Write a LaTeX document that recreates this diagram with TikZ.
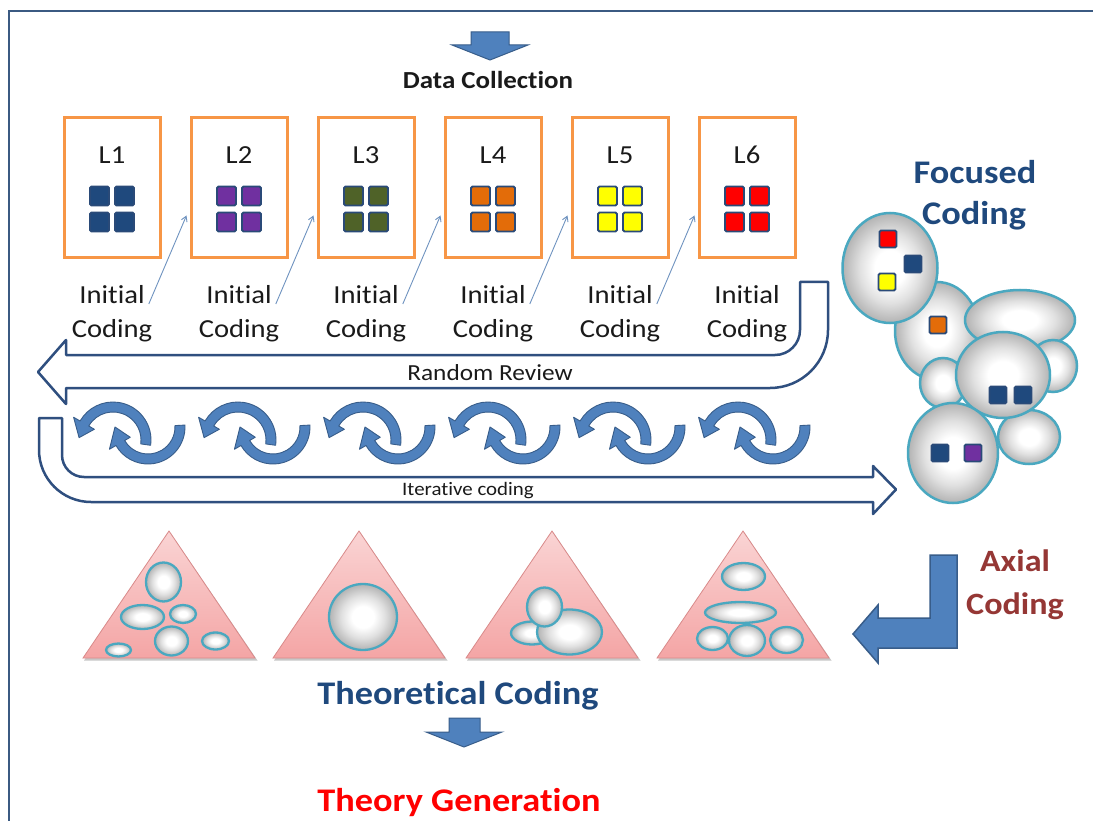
\documentclass[tikz,border=0pt]{standalone}
\usepackage{fontspec}
\setmainfont{Carlito}[FakeStretch=1.1, Ligatures=NoCommon]
\usetikzlibrary{calc,arrows.meta}
\definecolor{framec}{HTML}{3B5A82}
\definecolor{boxor}{HTML}{F79646}
\definecolor{sqedge}{HTML}{2A4A78}
\definecolor{cA}{HTML}{1F497D}
\definecolor{cB}{HTML}{7030A0}
\definecolor{cC}{HTML}{4F6228}
\definecolor{cD}{HTML}{E36C09}
\definecolor{cE}{HTML}{FFFF00}
\definecolor{cF}{HTML}{FF0000}
\definecolor{thinblue}{HTML}{6F93C0}
\definecolor{outl}{HTML}{2F4F7F}
\definecolor{arrfill}{HTML}{4F81BD}
\definecolor{arredge}{HTML}{385D8A}
\definecolor{navy}{HTML}{1F497D}
\definecolor{bubedge}{HTML}{4AA8C0}
\definecolor{tritop}{HTML}{FAD4D4}
\definecolor{tribot}{HTML}{F4A5A5}
\definecolor{triedge}{HTML}{D98A8A}
\definecolor{axred}{HTML}{953735}
\definecolor{txt}{HTML}{1A1A1A}
\pgfdeclareradialshading{bubble}{\pgfpoint{0bp}{0bp}}{color(0bp)=(white); color(8bp)=(white); color(16bp)=(black!12); color(25bp)=(black!30); color(50bp)=(black!30)}
\tikzset{
  lbox/.style={draw=boxor, line width=3pt, minimum width=96pt, minimum height=140pt, inner sep=0pt},
  sqr/.style={draw=sqedge, line width=1.8pt, minimum size=19pt, inner sep=0pt, rounded corners=1.5pt},
  bsq/.style={draw=sqedge, line width=1.8pt, minimum size=17pt, inner sep=0pt, rounded corners=1.5pt},
  lab/.style={font=\fontsize{26}{28}\selectfont, text=txt, inner sep=0pt},
  itext/.style={font=\fontsize{26}{28}\selectfont, text=txt, inner sep=1pt},
  thinarrow/.style={draw=thinblue, line width=0.9pt, -{Straight Barb[length=5pt,width=6pt]}},
  hollow/.style={draw=outl, line width=2.5pt, fill=white, line join=round},
  blockarr/.style={fill=arrfill, draw=arredge, line width=1pt, line join=miter},
  bub/.style={shading=bubble, draw=bubedge, line width=2.5pt},
  tbub/.style={shading=bubble, draw=bubedge, line width=2.3pt},
  tri/.style={top color=tritop, bottom color=tribot, draw=triedge, line width=0.8pt},
  curv/.style={fill=arrfill, draw=arredge, line width=0.9pt, line join=round},
  bigbold/.style={font=\fontsize{33}{35}\selectfont\bfseries, inner sep=0pt}
}
\begin{document}
\begin{tikzpicture}[x=1pt,y=-1pt]
\useasboundingbox (0,0) rectangle (1093,821);
\fill[white] (0,0) rectangle (1093,821);
% frame (top and left visible)
\draw[framec, line width=2.5pt] (9,821) -- (9,11) -- (1093,11);

% data collection
\fill[blockarr] (471,32) -- (509,32) -- (509,45) -- (528,45) -- (490,60) -- (452,45) -- (471,45) -- cycle;
\node[font=\fontsize{24.5}{26}\selectfont\bfseries, text=txt] (dc) at (488,80) {Data Collection};

% L boxes
\foreach \i/\c in {1/cA,2/cB,3/cC,4/cD,5/cE,6/cF}{
  \pgfmathsetmacro{\bx}{112+127*(\i-1)}
  \node[lbox] (b\i) at (\bx,187.5) {};
  \node[lab] (l\i) at (\bx,155) {L\i};
  \node[sqr, fill=\c] (s\i a) at (\bx-12.5,196) {};
  \node[sqr, fill=\c] (s\i b) at (\bx+12.5,196) {};
  \node[sqr, fill=\c] (s\i c) at (\bx-12.5,222) {};
  \node[sqr, fill=\c] (s\i d) at (\bx+12.5,222) {};
  \node[itext] (ini\i) at (\bx,295) {Initial};
  \node[itext] (cod\i) at (\bx,331) {Coding};
}
\foreach \i [evaluate=\i as \j using int(\i+1)] in {1,...,5}{
  \draw[thinarrow] ([shift={(3,9)}]ini\i.east) -- ([shift={(-3,28)}]b\j.west);
}

% Random Review hollow U-turn arrow
\draw[hollow] (800,282) -- (828,282) -- (828,330) arc[start angle=0, end angle=90, radius=58]
  -- (66,388) -- (66,404) -- (38,372) -- (66,340) -- (66,355) -- (775,355)
  arc[start angle=90, end angle=0, radius=25] -- cycle;
\node[font=\fontsize{23}{25}\selectfont, text=txt] (rr) at (490,373) {Random Review};

% Iterative coding hollow arrow
\draw[hollow] (39,418) -- (62,418) -- (62,455) arc[start angle=180, end angle=90, radius=22]
  -- (873,477) -- (873,466) -- (896,489.5) -- (873,514) -- (873,502) -- (91,502)
  arc[start angle=90, end angle=180, radius=52] -- cycle;
\node[font=\fontsize{19}{21}\selectfont, text=txt] (ic) at (468,491) {Iterative coding};

% circular arrows
\foreach \k in {0,...,5}{
  \pgfmathsetmacro{\tx}{113+125*\k}
  \pgfmathsetmacro{\bx}{148+125*\k}
  % top arc (head at left, pointing down)
  \filldraw[curv] ($(\tx,440)+(8:38)$) arc[start angle=8, end angle=-150, radius=38]
     -- ($(\tx,440)+(-150:45.5)$) -- ($(\tx,440)+(-176:34)$) -- ($(\tx,440)+(-150:21.5)$)
     -- ($(\tx,440)+(-150:28)$) arc[start angle=-150, end angle=8, radius=28] -- cycle;
  % bottom arc (head at left, pointing up)
  \filldraw[curv] ($(\bx,427)+(-3:37)$) arc[start angle=-3, end angle=150, radius=37]
     -- ($(\bx,427)+(150:44.5)$) -- ($(\bx,427)+(180:33)$) -- ($(\bx,427)+(150:20.5)$)
     -- ($(\bx,427)+(150:27)$) arc[start angle=150, end angle=-3, radius=27] -- cycle;
}

% Focused coding
\node[bigbold, text=navy] (fc1) at (975,172) {Focused};
\node[bigbold, text=navy] (fc2) at (974,216) {Coding};
\shadedraw[bub] (937,331) ellipse [x radius=42, y radius=49];
\shadedraw[bub] (1020,320) ellipse [x radius=55, y radius=30];
\shadedraw[bub] (1053,366) ellipse [x radius=24, y radius=26];
\shadedraw[bub] (943,383) ellipse [x radius=23, y radius=25];
\shadedraw[bub] (1029,437) ellipse [x radius=31, y radius=27];
\shadedraw[bub] (1003,375) ellipse [x radius=47, y radius=43];
\shadedraw[bub] (890,268) ellipse [x radius=47.5, y radius=55];
\shadedraw[bub] (953,453) ellipse [x radius=45, y radius=50];
\node[bsq, fill=cF] (fa1) at (888,239) {};
\node[bsq, fill=cA] (fa2) at (913,264) {};
\node[bsq, fill=cE] (fa3) at (887,282) {};
\node[bsq, fill=cD] (fb1) at (938,325) {};
\node[bsq, fill=cA] (ff1) at (998,395) {};
\node[bsq, fill=cA] (ff2) at (1023,395) {};
\node[bsq, fill=cA] (fh1) at (940,453) {};
\node[bsq, fill=cB] (fh2) at (973,453) {};

% triangles
\foreach \c in {169,359,552,743}{
  \fill[black!22] (\c+1.5,533) -- (\c-85,660.5) -- (\c+88.5,660.5) -- cycle;
  \shadedraw[tri] (\c,531) -- (\c-86,658) -- (\c+86,658) -- cycle;
}
% T1
\shadedraw[tbub] (163.5,582) ellipse [x radius=17.5, y radius=19.5];
\shadedraw[tbub] (142.5,617) ellipse [x radius=21.5, y radius=12];
\shadedraw[tbub] (183,614) ellipse [x radius=13, y radius=9];
\shadedraw[tbub] (171.5,641) ellipse [x radius=16.5, y radius=14.5];
\shadedraw[tbub] (215.5,641) ellipse [x radius=13.5, y radius=8.5];
\shadedraw[tbub] (118.5,650) ellipse [x radius=12.5, y radius=6.5];
% T2
\shadedraw[tbub] (363,617) ellipse [x radius=34, y radius=33];
% T3
\shadedraw[tbub] (532,633) ellipse [x radius=21, y radius=11.5];
\shadedraw[tbub] (569.5,632) ellipse [x radius=32.5, y radius=22.5];
\shadedraw[tbub] (544.5,607) ellipse [x radius=17.5, y radius=19.5];
% T4
\shadedraw[tbub] (743.5,576.5) ellipse [x radius=21.5, y radius=13.5];
\shadedraw[tbub] (740.5,612.5) ellipse [x radius=35.5, y radius=10.5];
\shadedraw[tbub] (712.5,638.5) ellipse [x radius=15.5, y radius=11.5];
\shadedraw[tbub] (747,640.5) ellipse [x radius=18, y radius=15.5];
\shadedraw[tbub] (786.5,640) ellipse [x radius=16.5, y radius=13];

% Axial coding arrow
\filldraw[fill=arrfill, draw=arredge, line width=1.5pt] (930,555) -- (957,555) -- (957,648) -- (878,648) -- (878,663) -- (853,634) -- (878,605) -- (878,618) -- (930,618) -- cycle;
\node[font=\fontsize{31}{33}\selectfont\bfseries, text=axred, inner sep=0pt] (ax1) at (1015,561) {Axial};
\node[font=\fontsize{31}{33}\selectfont\bfseries, text=axred, inner sep=0pt] (ax2) at (1015,606) {Coding};

% Theoretical coding
\node[bigbold, text=navy] (tc) at (458,696) {Theoretical Coding};
\fill[blockarr] (449,718) -- (480,718) -- (480,732) -- (502,732) -- (464,747) -- (426,732) -- (449,732) -- cycle;
\node[bigbold, text=red] (tg) at (459,803) {Theory Generation};
\end{tikzpicture}
\end{document}
